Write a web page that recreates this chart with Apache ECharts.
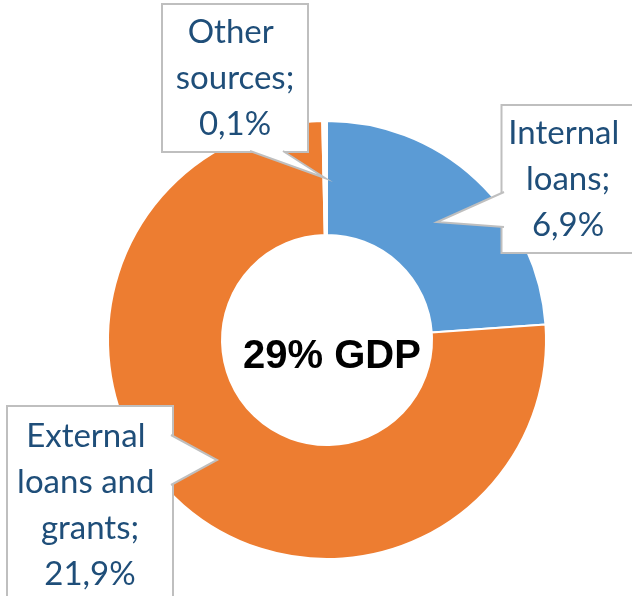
<!DOCTYPE html>
<html>
<head>
<meta charset="utf-8">
<script src="https://cdn.jsdelivr.net/npm/echarts@6/dist/echarts.min.js"></script>
<style>
  html, body { margin: 0; padding: 0; background: #fff; }
  #main { width: 632px; height: 596px; }
</style>
</head>
<body>
<div id="main"></div>
<script>
// data
const sourceNames = ['Internal loans', 'External loans and grants', 'Other sources'];
const shareOfGdp = [6.9, 21.9, 0.1];
const sliceColors = ['#5B9BD5', '#ED7D31', '#FFFFFF'];
const totalText = '29% GDP';

// callout boxes: center x, center y, content width, padding
const boxes = [
    { x: 568, y: 179, w: 127, pad: [4, 2] },
    { x: 90, y: 505, w: 160, pad: [6, 2] },
    { x: 235, y: 78, w: 140, pad: [4, 2] }
];

// pointer wedges of the callouts (base point, tip, base point)
const wedges = [
    [[504, 192], [437, 222], [504, 227]],
    [[171, 435], [217, 460], [171, 485]],
    [[250, 151], [325, 178], [283, 151]]
];

const chart = echarts.init(document.getElementById('main'));

const seriesData = sourceNames.map((name, i) => {
    return {
        name: name,
        value: shareOfGdp[i],
        itemStyle: { color: sliceColors[i] },
        label: {
            width: boxes[i].w,
            padding: boxes[i].pad
        }
    };
});

const wedgeGraphics = [];
wedges.forEach(pts => {
    wedgeGraphics.push({
        type: 'polygon',
        z: 100,
        shape: { points: pts },
        style: { fill: '#fff', stroke: null }
    });
    wedgeGraphics.push({
        type: 'polyline',
        z: 101,
        shape: { points: pts },
        style: { stroke: '#BFBFBF', lineWidth: 2, fill: null }
    });
});

const option = {
    animation: false,
    backgroundColor: '#fff',
    title: {
        text: totalText,
        left: 327,
        top: 352,
        textAlign: 'center',
        textVerticalAlign: 'middle',
        textStyle: {
            fontFamily: 'Liberation Sans',
            fontWeight: 'bold',
            fontSize: 40,
            color: '#000'
        }
    },
    graphic: wedgeGraphics,
    series: [{
        type: 'pie',
        center: [327, 340],
        radius: [105, 219],
        startAngle: 90,
        clockwise: true,
        itemStyle: { borderColor: '#fff', borderWidth: 2 },
        emphasis: { disabled: true },
        labelLine: { show: false },
        label: {
            show: true,
            position: 'outside',
            formatter: p => p.name + ';\n' + String(p.value).replace('.', ',') + '%',
            fontFamily: 'Lato',
            fontSize: 33,
            lineHeight: 46,
            color: '#1F4E79',
            align: 'center',
            overflow: 'break',
            backgroundColor: '#fff',
            borderColor: '#BFBFBF',
            borderWidth: 2
        },
        labelLayout: params => {
            const b = boxes[params.dataIndex];
            return { x: b.x, y: b.y, align: 'center', verticalAlign: 'middle' };
        },
        data: seriesData
    }]
};

chart.setOption(option);
</script>
</body>
</html>
